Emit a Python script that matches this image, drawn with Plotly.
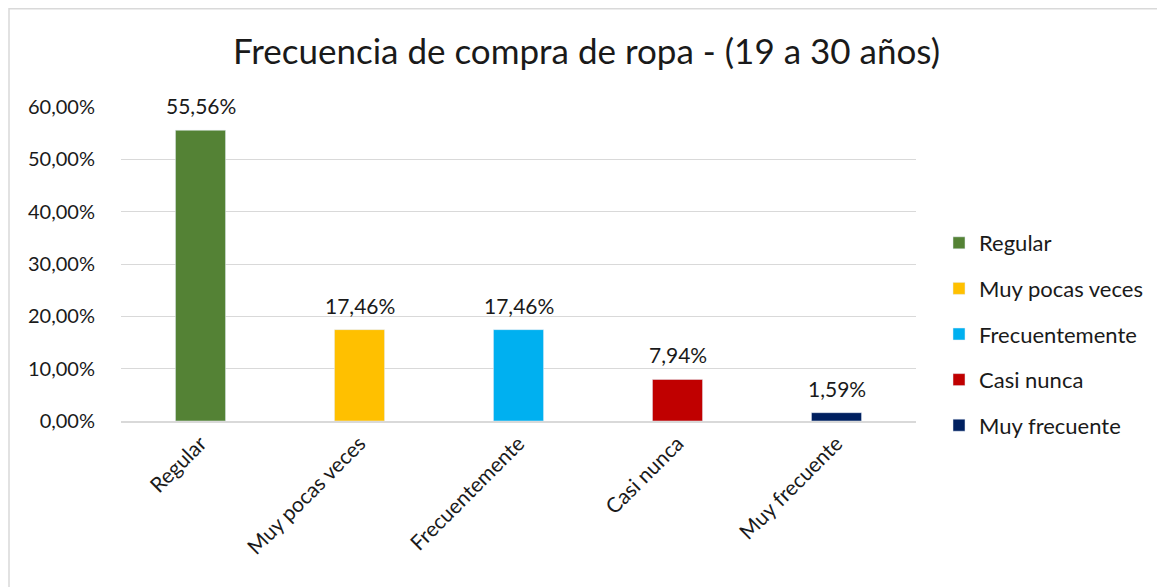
import plotly.graph_objects as go

categories = ["Regular", "Muy pocas veces", "Frecuentemente", "Casi nunca", "Muy frecuente"]
values = [0.5556, 0.1746, 0.1746, 0.0794, 0.0159]
colors = ["#548235", "#FFC000", "#00B0F0", "#C00000", "#002060"]
title_text = "Frecuencia de compra de ropa - (19 a 30 años)"
y_ticks = [0, 0.1, 0.2, 0.3, 0.4, 0.5, 0.6]

FONT = "Lato, 'Open Sans', sans-serif"
TXT = "#1a1a1a"

fig = go.Figure()
for cat, val, col in zip(categories, values, colors):
    fig.add_trace(go.Bar(
        x=[cat], y=[val], name=cat, marker_color=col, width=0.315,
        legendgroup=cat, cliponaxis=False,
    ))
    fig.add_annotation(
        x=cat, y=val, text=f"{val * 100:.2f}%".replace(".", ","),
        showarrow=False, yanchor="bottom", yshift=10,
        font=dict(size=21, color=TXT, family=FONT),
    )

W, H = 1157, 579
ml, mr, mt, mb = 113, 249, 99, 166
pw = W - ml - mr
ph = H - mt - mb

fig.update_layout(
    width=W, height=H,
    margin=dict(l=ml, r=mr, t=mt, b=mb),
    paper_bgcolor="white", plot_bgcolor="white",
    separators=", ",
    barmode="overlay",
    font=dict(family=FONT, color=TXT),
    title=dict(text=title_text, x=0.5, xanchor="center", y=1 - 44 / H, yanchor="middle",
               font=dict(size=35, color=TXT, family=FONT)),
    showlegend=True,
    legend=dict(x=(931 - ml) / pw, y=(413 - 214) / ph, xanchor="left", yanchor="top",
                font=dict(size=22, color=TXT), tracegroupgap=14,
                bgcolor="rgba(0,0,0,0)"),
    xaxis=dict(categoryorder="array", categoryarray=categories, tickangle=-45,
               tickfont=dict(size=21, color=TXT), showgrid=False,
               showline=True, linecolor="#D9D9D9", linewidth=2, ticks=""),
    yaxis=dict(range=[0, 0.6], tickvals=y_ticks, tickformat=".2%",
               tickfont=dict(size=20, color=TXT), showgrid=True,
               gridcolor="#D9D9D9", gridwidth=1, zeroline=False, showline=False,
               ticks="", ticklabelstandoff=25),
    shapes=[dict(type="rect", xref="paper", yref="paper",
                 x0=(1 - ml) / pw, x1=(1175 - ml) / pw,
                 y0=(413 - 600) / ph, y1=(413 - 0.8) / ph,
                 line=dict(color="#D9D9D9", width=1.5), fillcolor="rgba(0,0,0,0)", layer="below")],
)

fig.write_html("out.html")
